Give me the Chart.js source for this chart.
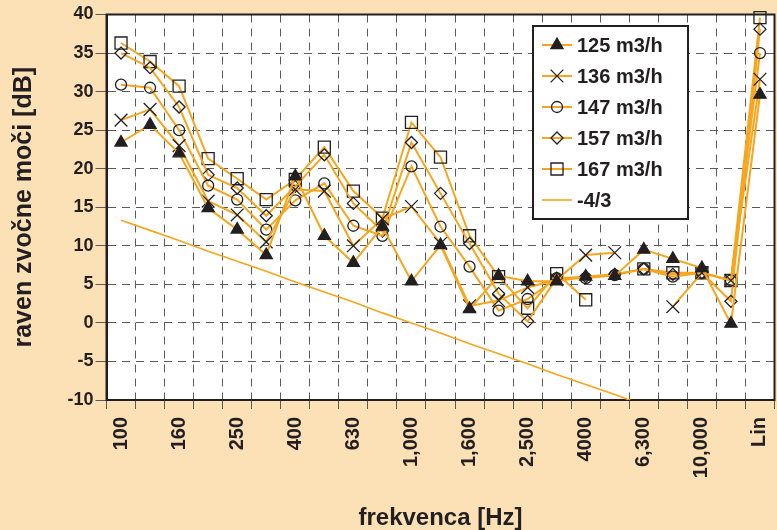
<!DOCTYPE html>
<html>
<head>
<meta charset="utf-8">
<script src="https://cdn.jsdelivr.net/npm/chart.js@4.4.1/dist/chart.umd.min.js"></script>
<style>
  html, body { margin: 0; padding: 0; background: #fce0b6; }
</style>
</head>
<body>
<canvas id="myChart" width="777" height="530"></canvas>
<script>
// 1/3 octave bands + overall level
const bands = ['100', '125', '160', '200', '250', '315', '400', '500', '630', '800', '1000', '1250',
    '1600', '2000', '2500', '3150', '4000', '5000', '6300', '8000', '10000', '12500', 'Lin'];
const tickLabels = ['100', '', '160', '', '250', '', '400', '', '630', '', '1,000', '',
    '1,600', '', '2,500', '', '4000', '', '6,300', '', '10,000', '', 'Lin'];

const flow125 = [23.4, 25.7, 22.0, 14.9, 12.1, 8.8, 19.0, 11.3, 7.8, 12.5, 5.4, 10.1,
    1.8, 6.1, 5.4, 5.4, 6.0, 6.1, 9.5, 8.3, 7.1, -0.1, 29.6];
const flow136 = [26.3, 27.7, 23.0, 15.8, 14.0, 10.5, 17.3, 17.1, 10.0, 13.5, 15.1, 10.3,
    2.2, 2.9, 4.6, 5.6, 8.8, 9.1, null, 2.1, 6.5, 5.5, 31.6];
const flow147 = [30.9, 30.5, 25.0, 17.8, 16.0, 12.1, 15.9, 18.1, 12.6, 11.3, 20.3, 12.5,
    7.3, 1.6, 3.1, 5.8, 5.8, 6.2, 7.0, 6.0, 6.5, 5.5, 35.0];
const flow157 = [35.0, 33.1, 28.0, 19.2, 17.5, 13.9, 17.7, 21.8, 15.5, 11.9, 23.4, 16.8,
    10.3, 3.8, 0.2, 5.8, 6.0, 6.3, 7.0, 6.3, 6.5, 2.8, 38.1];
const flow167 = [36.3, 33.9, 30.7, 21.3, 18.7, 16.0, 18.6, 22.8, 17.1, 13.6, 26.0, 21.5,
    11.3, 6.0, 1.9, 6.4, 3.0, null, 7.0, 6.5, 6.5, 5.5, 39.6];
// reference slope line
const slope43 = [13.3, 12.0, 10.7, 9.3, 8.0, 6.7, 5.3, 4.0, 2.7, 1.3, 0.0, -1.3,
    -2.7, -4.0, -5.3, -6.7, -8.0, -9.3, -10.7, null, null, null, null];

const ORANGE = '#f7a51c';
const INK = '#231f20';
const GRID = '#5a5a5a';

Chart.defaults.font.family = "'Liberation Sans', Arial, sans-serif";
Chart.defaults.color = INK;

function series(label, data, style, radius, fill) {
    return {
        label: label,
        data: data,
        borderColor: ORANGE,
        borderWidth: 2,
        pointStyle: style,
        pointRadius: radius,
        pointBorderColor: INK,
        pointBackgroundColor: fill,
        pointBorderWidth: 1.3,
        clip: false
    };
}

const plotFrame = {
    id: 'plotFrame',
    beforeDraw(chart) {
        const { ctx, chartArea: a } = chart;
        ctx.save();
        ctx.fillStyle = '#fce0b6';
        ctx.fillRect(0, 0, chart.width, chart.height);
        ctx.fillStyle = '#ffffff';
        ctx.fillRect(a.left, a.top, a.right - a.left, a.bottom - a.top);
        ctx.restore();
    },
    beforeDatasetsDraw(chart) {
        const { ctx, chartArea: a } = chart;
        ctx.save();
        ctx.strokeStyle = INK;
        ctx.lineWidth = 2;
        ctx.strokeRect(a.left, a.top, a.right - a.left, a.bottom - a.top);
        ctx.restore();
    }
};

// boxed legend inside the plot, upper right
const boxLegend = {
    id: 'boxLegend',
    afterDatasetsDraw(chart) {
        const ctx = chart.ctx;
        const bx = 533, by = 26, bw = 155, bh = 193;
        ctx.save();
        ctx.fillStyle = '#ffffff';
        ctx.fillRect(bx, by, bw, bh);
        ctx.strokeStyle = INK;
        ctx.lineWidth = 2;
        ctx.strokeRect(bx, by, bw, bh);
        chart.data.datasets.forEach((ds, i) => {
            const y = by + 19 + i * 31;
            ctx.strokeStyle = ds.borderColor;
            ctx.lineWidth = ds.borderWidth;
            ctx.beginPath();
            ctx.moveTo(bx + 9, y);
            ctx.lineTo(bx + 39, y);
            ctx.stroke();
            if (ds.pointRadius > 0) {
                ctx.strokeStyle = ds.pointBorderColor;
                ctx.fillStyle = ds.pointBackgroundColor;
                ctx.lineWidth = ds.pointBorderWidth;
                Chart.helpers.drawPoint(ctx, {
                    pointStyle: ds.pointStyle,
                    radius: ds.pointRadius,
                    borderWidth: ds.pointBorderWidth,
                    rotation: 0
                }, bx + 24, y);
            }
            ctx.fillStyle = INK;
            ctx.font = "bold 20px 'Liberation Sans', Arial, sans-serif";
            ctx.textBaseline = 'middle';
            ctx.textAlign = 'left';
            ctx.fillText(ds.label, bx + 44, y + 1);
        });
        ctx.restore();
    }
};

const ctx = document.getElementById('myChart').getContext('2d');
new Chart(ctx, {
    type: 'line',
    data: {
        labels: bands,
        datasets: [
            series('125 m3/h', flow125, 'triangle', 7, INK),
            series('136 m3/h', flow136, 'crossRot', 9, INK),
            series('147 m3/h', flow147, 'circle', 5.5, 'rgba(0,0,0,0)'),
            series('157 m3/h', flow157, 'rectRot', 6, 'rgba(0,0,0,0)'),
            series('167 m3/h', flow167, 'rect', 8.5, 'rgba(0,0,0,0)'),
            {
                label: '-4/3',
                data: slope43,
                borderColor: ORANGE,
                borderWidth: 1.6,
                pointRadius: 0
            }
        ]
    },
    options: {
        responsive: false,
        animation: false,
        layout: {
            autoPadding: false,
            padding: { top: 14.5, right: 2.5, left: 0, bottom: 0 }
        },
        plugins: {
            legend: { display: false },
            tooltip: { enabled: false }
        },
        scales: {
            x: {
                offset: true,
                grid: { offset: true, color: GRID, lineWidth: 1, tickLength: 9, tickColor: GRID },
                border: { display: true, color: INK, width: 2, dash: [8, 6] },
                ticks: {
                    autoSkip: false,
                    minRotation: 90,
                    maxRotation: 90,
                    padding: 8,
                    font: { size: 20, weight: 'bold' },
                    callback: function (value, index) {
                        return tickLabels[index];
                    }
                },
                title: {
                    display: true,
                    text: 'frekvenca [Hz]',
                    font: { size: 24, weight: 'bold', lineHeight: 1 },
                    padding: { top: 0, bottom: 0 }
                },
                afterFit: function (scale) {
                    scale.height = 130;
                    scale.paddingLeft = 0;
                    scale.paddingRight = 0;
                }
            },
            y: {
                min: -10,
                max: 40,
                grid: { color: GRID, lineWidth: 1, tickLength: 11, tickColor: GRID },
                border: { display: true, color: INK, width: 2, dash: [8, 6] },
                ticks: {
                    stepSize: 5,
                    padding: 2,
                    font: { size: 18, weight: 'bold' }
                },
                title: {
                    display: true,
                    text: 'raven zvočne moči [dB]',
                    font: { size: 25, weight: 'bold', lineHeight: 1 },
                    padding: { top: 12, bottom: 0 }
                },
                afterFit: function (scale) { scale.width = 106.5; }
            }
        }
    },
    plugins: [plotFrame, boxLegend]
});
</script>
</body>
</html>
